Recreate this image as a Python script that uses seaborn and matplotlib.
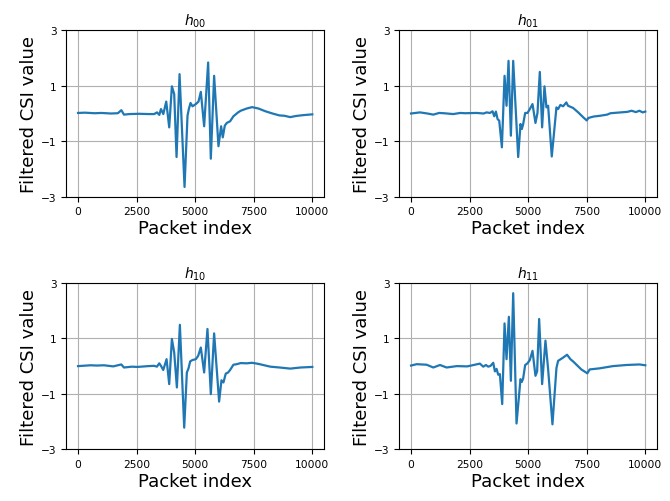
import numpy as np
import pandas as pd
import matplotlib
matplotlib.use("Agg")
import matplotlib.pyplot as plt
import seaborn as sns

# Filtered CSI traces for the four antenna links
h00_idx = [0, 300, 700, 1000, 1400, 1700, 1849, 1960, 2200, 2600, 3000, 3250, 3370, 3470,
           3540, 3640, 3765, 3892, 4006, 4105, 4205, 4333, 4546, 4673, 4730, 4801, 4886,
           5028, 5142, 5241, 5383, 5554, 5668, 5809, 5994, 6108, 6179, 6264, 6349, 6491,
           6633, 6832, 6945, 7200, 7430, 7700, 8000, 8300, 8600, 8800, 9060, 9300, 9600,
           10000]
h00_val = [0.02, 0.03, 0.01, 0.02, 0.0, 0.01, 0.12, -0.04, -0.02, -0.01, -0.02, -0.02, 0.04,
           -0.05, 0.16, -0.02, 0.43, -0.50, 0.98, 0.70, -1.57, 1.42, -2.65, -0.08, 0.16,
           0.38, 0.26, 0.34, 0.43, 0.78, -0.46, 1.84, -1.63, 1.36, -1.18, -0.46, -0.86,
           -0.44, -0.34, -0.28, -0.10, 0.04, 0.10, 0.18, 0.23, 0.18, 0.08, 0.0, -0.07,
           -0.08, -0.13, -0.09, -0.06, -0.03]

h01_idx = [0, 380, 700, 950, 1200, 1400, 1800, 2100, 2300, 2800, 3100, 3225, 3367, 3481,
           3552, 3623, 3694, 3765, 3878, 3992, 4077, 4162, 4262, 4361, 4574, 4673, 4730,
           4787, 4872, 4972, 5071, 5185, 5312, 5398, 5497, 5596, 5696, 5781, 5852, 6008,
           6207, 6278, 6377, 6491, 6630, 6700, 6920, 7137, 7355, 7500, 7572, 7790, 8080,
           8370, 8515, 8660, 8950, 9240, 9415, 9600, 9745, 9890, 10000]
h01_val = [0.0, 0.04, 0.0, -0.04, 0.02, 0.01, -0.02, 0.02, 0.01, 0.02, 0.0, 0.04, 0.02,
           0.08, -0.10, 0.07, -0.20, -0.26, -1.22, 1.36, 0.28, 1.90, -0.80, 1.90, -1.57,
           -0.38, -0.56, -0.38, 0.02, 0.02, 0.16, 0.34, -0.34, 0.02, 1.50, -0.50, 0.98,
           0.22, 0.28, -1.55, 0.22, 0.16, 0.31, 0.26, 0.40, 0.28, 0.20, 0.04, -0.14, -0.25,
           -0.16, -0.11, -0.08, -0.04, 0.01, 0.02, 0.04, 0.06, 0.10, 0.05, 0.10, 0.04, 0.07]

h10_idx = [0, 540, 800, 1108, 1500, 1846, 1960, 2300, 2528, 3000, 3253, 3367, 3467, 3540,
           3637, 3779, 3892, 4006, 4105, 4219, 4347, 4532, 4645, 4716, 4787, 4886, 5028,
           5128, 5241, 5383, 5525, 5668, 5809, 6022, 6122, 6207, 6306, 6405, 6491, 6633,
           6775, 6945, 7200, 7427, 7700, 8208, 8600, 9060, 9500, 10000]
h10_val = [0.0, 0.03, 0.02, 0.03, -0.01, 0.06, -0.05, -0.02, -0.03, 0.0, 0.01, -0.02, 0.10,
           0.01, -0.14, 0.25, -0.65, 0.98, 0.49, -0.77, 1.49, -2.22, -0.23, -0.08, 0.17,
           0.22, 0.25, 0.37, 0.67, -0.23, 1.34, -1.01, 1.18, -1.28, -0.51, -0.59, -0.27,
           -0.23, -0.14, 0.05, 0.07, 0.11, 0.10, 0.12, 0.08, -0.02, -0.05, -0.09, -0.05,
           -0.03]

h11_idx = [0, 241, 667, 951, 1235, 1519, 1950, 2400, 2939, 3083, 3197, 3296, 3395, 3509,
           3580, 3651, 3722, 3793, 3892, 3992, 4077, 4176, 4262, 4361, 4503, 4673, 4730,
           4787, 4872, 4972, 5071, 5185, 5312, 5383, 5469, 5596, 5738, 5852, 6037, 6207,
           6278, 6463, 6661, 6803, 6917, 7270, 7526, 7625, 8051, 8619, 9187, 9755, 10000]
h11_val = [0.02, 0.07, 0.05, -0.05, 0.04, -0.05, 0.0, -0.01, 0.09, -0.02, 0.04, -0.02, 0.01,
           0.12, -0.19, -0.10, -0.31, -0.29, -1.37, 1.54, 0.25, 1.78, -0.53, 2.63, -2.07,
           -0.47, -0.57, -0.44, 0.04, 0.10, 0.22, 0.55, -0.35, -0.19, 1.70, -0.65, 0.92,
           -0.11, -2.10, -0.07, 0.19, 0.29, 0.41, 0.25, 0.17, -0.12, -0.26, -0.12, -0.08,
           0.0, 0.04, 0.06, 0.03]

titles = [r"$h_{00}$", r"$h_{01}$", r"$h_{10}$", r"$h_{11}$"]
x_ticks = [0, 2500, 5000, 7500, 10000]
y_ticks = [-3, -1, 1, 3]

traces = [(h00_idx, h00_val), (h01_idx, h01_val), (h10_idx, h10_val), (h11_idx, h11_val)]

fig = plt.figure(figsize=(6.7, 5.02), dpi=100)

# axes boxes: [left, bottom, width, height] in figure fractions
lefts = [0.099, 0.596]
bottoms = [0.6062, 0.103]
width = 0.3846
height = 0.3314

for k, ((idx, val), title) in enumerate(zip(traces, titles)):
    row, col = divmod(k, 2)
    ax = fig.add_axes([lefts[col], bottoms[row], width, height])
    df = pd.DataFrame({"Packet index": idx, "Filtered CSI value": val})
    sns.lineplot(data=df, x="Packet index", y="Filtered CSI value", ax=ax,
                 color="#1f77b4", linewidth=1.6, estimator=None)
    ax.set_ylim(-3, 3)
    ax.set_yticks(y_ticks)
    ax.set_xticks(x_ticks)
    ax.set_xlim(-500, 10500)
    ax.grid(True, color="#b0b0b0", linewidth=0.8)
    ax.set_axisbelow(True)
    ax.tick_params(labelsize=7.7, direction="out", length=3.5, width=0.8)
    ax.set_xlabel("Packet index", fontsize=13, labelpad=2)
    ax.set_ylabel("Filtered CSI value", fontsize=13, labelpad=2)
    ax.set_title(title, fontsize=10, pad=4)
    for s in ax.spines.values():
        s.set_color("black")
        s.set_linewidth(0.8)

fig.savefig("out.png", dpi=100)
